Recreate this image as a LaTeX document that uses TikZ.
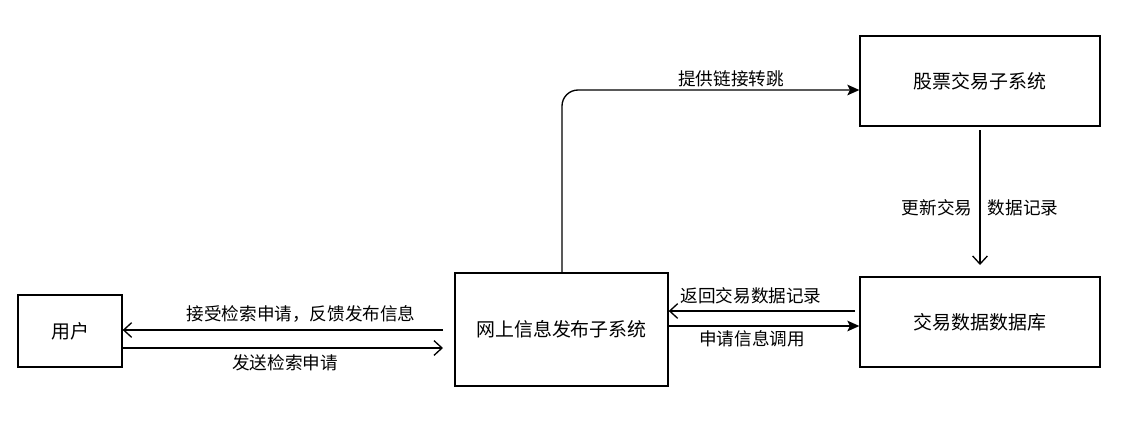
\documentclass[tikz,border=0pt]{standalone}
\usepackage{fontspec}
\setmainfont{Noto Sans CJK SC}
\usetikzlibrary{arrows.meta}
\begin{document}
\begin{tikzpicture}[x=0.75pt,y=-0.75pt,
  box/.style={draw,line width=1pt,minimum width=#1,inner sep=0pt,font=\fontsize{14.2pt}{16pt}\selectfont},
  lbl/.style={font=\fontsize{13.2pt}{15pt}\selectfont,inner sep=0pt},
  con/.style={line width=1pt},
  open/.style={-{Straight Barb[length=6pt,width=11pt,line width=1pt]}},
  filled/.style={-{Stealth[length=9pt,width=8pt,inset=2pt]}}]
\useasboundingbox (0,0) rectangle (1123,429);
\node[box=104*0.75pt,minimum height=72*0.75pt] (user) at (70,331) {用户};
\node[box=213*0.75pt,minimum height=113*0.75pt] (web) at (561.5,329.5) {网上信息发布子系统};
\node[box=240*0.75pt,minimum height=90*0.75pt] (stock) at (980,81) {股票交易子系统};
\node[box=240*0.75pt,minimum height=90*0.75pt] (db) at (980,322) {交易数据数据库};
% top connector
\coordinate (c1) at (562,90);
\draw[con,filled,rounded corners=12pt] (web.north -| c1) -- (c1) -- (stock.west |- c1);
\node[lbl] (l1) at (731,79) {提供链接转跳};
% down connector
\coordinate (d1) at (980,130);
\coordinate (d2) at (980,265);
\draw[con,open] (d1) -- (d2);
\node[lbl] (l2) at (937,208) {更新交易};
\node[lbl] (l3) at (1023,208) {数据记录};
% db <-> web
\coordinate (r1) at (855,311);
\draw[con,open] (r1) -- (web.east |- r1);
\node[lbl] (l4) at (751,296) {返回交易数据记录};
\coordinate (r2) at (669,326);
\draw[con,filled] (r2) -- (db.west |- r2);
\node[lbl] (l5) at (752,339) {申请信息调用};
% user <-> web
\coordinate (u1) at (443,330);
\coordinate (u2) at (443,348);
\draw[con,open] (u1) -- (user.east |- u1);
\node[lbl] (l6) at (301,314) {接受检索申请，反馈发布信息};
\draw[con,open] (user.east |- u2) -- (u2);
\node[lbl] (l7) at (285,363) {发送检索申请};
\end{tikzpicture}
\end{document}
